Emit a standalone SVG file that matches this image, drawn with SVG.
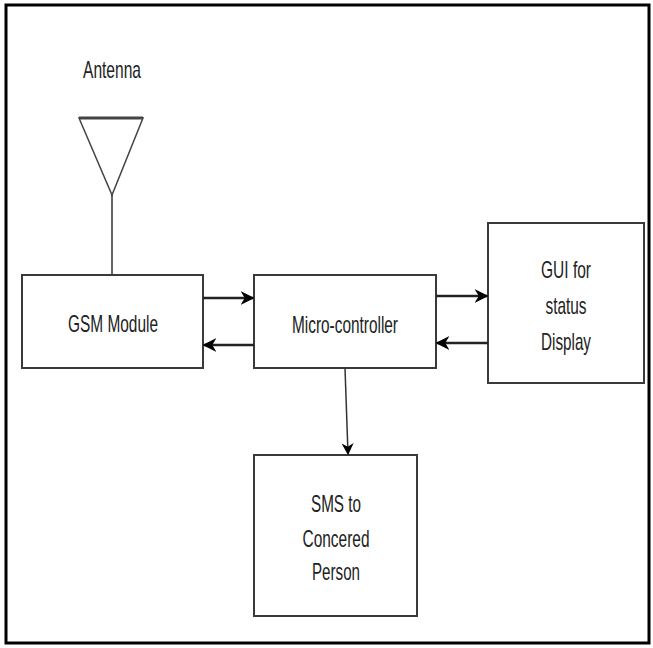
<svg xmlns="http://www.w3.org/2000/svg" width="653" height="648" viewBox="0 0 653 648">
<style>
.box{fill:#fff;stroke:#3a3a3a;stroke-width:2}
.lbl{font-family:"Liberation Sans",Arial,sans-serif;font-size:24px;fill:#222;text-anchor:middle}
.conn{stroke:#222;stroke-width:2.5;fill:none}
</style>
<defs>
<marker id="ah" viewBox="0 0 10 10" refX="9" refY="5" markerWidth="5.5" markerHeight="6" orient="auto" markerUnits="strokeWidth">
<path d="M0,0 L10,5 L0,10 L3,5 Z" fill="#000"/>
</marker>
<marker id="ahs" viewBox="0 0 10 10" refX="9" refY="5" markerWidth="8" markerHeight="9" orient="auto" markerUnits="strokeWidth">
<path d="M0,0 L10,5 L0,10 L3,5 Z" fill="#000"/>
</marker>
</defs>
<rect x="0" y="0" width="653" height="648" fill="#fff"/>
<rect x="6" y="5" width="643" height="638" fill="none" stroke="#000" stroke-width="3"/>
<g id="antenna">
<text class="lbl" x="112" y="78" textLength="58" lengthAdjust="spacingAndGlyphs">Antenna</text>
<path d="M79,118 L143,118 L112,195 Z" fill="none" stroke="#444" stroke-width="1.5"/>
<line x1="79" y1="118" x2="143" y2="118" stroke="#444" stroke-width="3"/>
<line x1="112" y1="195" x2="112" y2="275" stroke="#333" stroke-width="1.5"/>
</g>
<g id="gsm">
<rect class="box" x="22" y="275" width="181" height="93"/>
<text class="lbl" x="113" y="332" textLength="90" lengthAdjust="spacingAndGlyphs">GSM Module</text>
</g>
<g id="micro">
<rect class="box" x="254" y="275" width="182" height="93"/>
<text class="lbl" x="345" y="333" textLength="106" lengthAdjust="spacingAndGlyphs">Micro-controller</text>
</g>
<g id="gui">
<rect class="box" x="488" y="223" width="156" height="160"/>
<text class="lbl" x="566" y="278" textLength="50" lengthAdjust="spacingAndGlyphs">GUI for</text>
<text class="lbl" x="566" y="314" textLength="41" lengthAdjust="spacingAndGlyphs">status</text>
<text class="lbl" x="566" y="350" textLength="50" lengthAdjust="spacingAndGlyphs">Display</text>
</g>
<g id="sms">
<rect class="box" x="254" y="455" width="163" height="161"/>
<text class="lbl" x="336" y="512" textLength="50" lengthAdjust="spacingAndGlyphs">SMS to</text>
<text class="lbl" x="336" y="547" textLength="67" lengthAdjust="spacingAndGlyphs">Concered</text>
<text class="lbl" x="336" y="580" textLength="48" lengthAdjust="spacingAndGlyphs">Person</text>
</g>
<g id="connectors">
<line class="conn" x1="203" y1="298" x2="253" y2="298" marker-end="url(#ah)"/>
<line class="conn" x1="254" y1="345" x2="204" y2="345" marker-end="url(#ah)"/>
<line class="conn" x1="436" y1="296" x2="487" y2="296" marker-end="url(#ah)"/>
<line class="conn" x1="488" y1="343" x2="437" y2="343" marker-end="url(#ah)"/>
<line x1="345" y1="368" x2="348" y2="454" stroke="#333" stroke-width="1.5" marker-end="url(#ahs)"/>
</g>
</svg>
